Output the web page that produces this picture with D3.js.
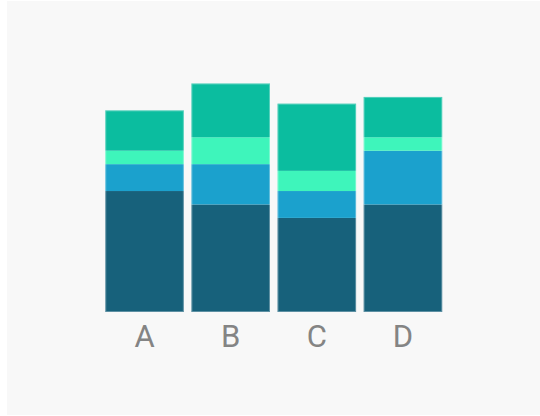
<!DOCTYPE html>
<html><head><meta charset="utf-8">
<script src="https://cdn.jsdelivr.net/npm/d3@7"></script>
<style>html,body{margin:0;padding:0;background:#fff;}svg{display:block;}</style>
</head><body>
<svg id="chart" width="540" height="416"></svg>
<script>
const categories = ["A", "B", "C", "D"];
const seriesNames = ["s1", "s2", "s3", "s4"];
const s1 = [9, 8, 7, 8];
const s2 = [2, 3, 2, 4];
const s3 = [1, 2, 1.5, 1];
const s4 = [3, 4, 5, 3];
const colors = ["#17617b", "#1ba1cd", "#3ef5bb", "#0bbd9f"];

const rows = categories.map((c, i) => ({cat: c, s1: s1[i], s2: s2[i], s3: s3[i], s4: s4[i]}));
const stacked = d3.stack().keys(seriesNames)(rows);

const svg = d3.select("#chart");
svg.append("rect").attr("x", 7).attr("y", 1).attr("width", 533).attr("height", 414).attr("fill", "#f8f8f8");

const x = d3.scaleBand().domain(categories).range([101.5, 446]).paddingInner(0.088).paddingOuter(0.044);
const y = d3.scaleLinear().domain([0, 17]).range([312, 83.5]);

svg.append("g").selectAll("g").data(stacked).join("g")
  .attr("fill", (d, i) => colors[i])
  .selectAll("rect").data(d => d).join("rect")
  .attr("x", d => x(d.data.cat))
  .attr("y", d => y(d[1]))
  .attr("width", x.bandwidth())
  .attr("height", d => y(d[0]) - y(d[1]));

// light outline round each bar
svg.append("g").selectAll("rect").data(rows).join("rect")
  .attr("x", d => x(d.cat) + 0.5)
  .attr("y", d => y(d.s1 + d.s2 + d.s3 + d.s4) + 0.5)
  .attr("width", x.bandwidth() - 1)
  .attr("height", d => y(0) - y(d.s1 + d.s2 + d.s3 + d.s4) - 1)
  .attr("fill", "none")
  .attr("stroke", "rgba(255,255,255,0.3)")
  .attr("stroke-width", 1);

const axis = d3.axisBottom(x).tickSize(0).tickPadding(0);
const ag = svg.append("g").attr("transform", "translate(0,312)").call(axis);
ag.select(".domain").remove();
ag.selectAll("text")
  .attr("dy", null).attr("y", 34.5)
  .attr("font-family", "Roboto, sans-serif")
  .attr("font-size", 31)
  .attr("font-weight", 400)
  .attr("fill", "#848484");
</script>
</body></html>
